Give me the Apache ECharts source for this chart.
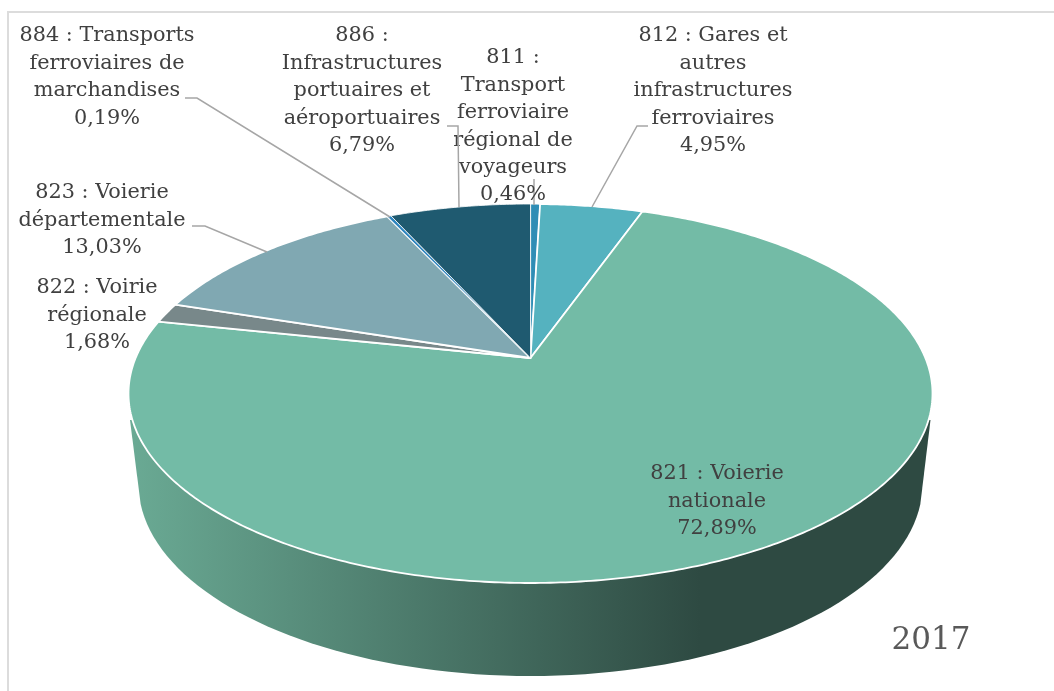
<!DOCTYPE html>
<html><head><meta charset="utf-8">
<style>html,body{margin:0;padding:0;background:#fff}#c{width:1054px;height:691px}</style>
<script src="https://cdn.jsdelivr.net/npm/echarts@6/dist/echarts.min.js"></script>
</head><body><div id="c"></div>
<script>
// ---- data ----
const codes = ['811','812','821','822','823','884','886'];
const labelLines = [
  ['811 :','Transport','ferroviaire','régional de','voyageurs'],
  ['812 : Gares et','autres','infrastructures','ferroviaires'],
  ['821 : Voierie','nationale'],
  ['822 : Voirie','régionale'],
  ['823 : Voierie','départementale'],
  ['884 : Transports','ferroviaires de','marchandises'],
  ['886 :','Infrastructures','portuaires et','aéroportuaires']
];
const shares = [0.46, 4.95, 72.89, 1.68, 13.03, 0.19, 6.79];
const yearLabel = '2017';

// ---- style / layout ----
const sliceColors = ['#2f8db5','#55b2bf','#73bba6','#78888a','#80a8b2','#2f86c0','#1f5a70'];
const sliceStrokes = [1.2, 1.8, 1.8, 1.8, 1.8, 0.8, 0.8];
const labelAnchors = [[513,58],[713,36],[717,474],[97,288],[102,193],[107,36],[362,36]]; // first-line centre
const leaderPaths = [
  [[534,179],[534,205]],
  [[648,126],[637,126],[592,207]],
  null,
  null,
  [[192,226],[205,226],[267,252]],
  [[185,98],[197,98],[390,217]],
  [[447,126],[458,126],[459,207]]
];
const LINE_H = 27.4;
const FONT = '"DejaVu Serif",serif';
const FONT_SIZE = 20.8;
const CX = 530.5, CY = 393.5, RX = 402, RY = 189.5, APEX_OFF = -35.5;
const K = -APEX_OFF / RY, AX = RX * Math.sqrt(1 - K * K);
const WALL = {cx:530.5, cy:484, rx:392, ry:192, tl:[130,420], tr:[930.5,420]};

function rim(turn){ // turn: 0..1 clockwise from the top, perspective disc
  const a = turn * 2 * Math.PI, u = Math.sin(a), v = Math.cos(a), w = 1 + K * v;
  return [CX + AX * u / w, CY + (-RY * v + APEX_OFF) / w];
}
const total = shares.reduce((s, v) => s + v, 0);
const starts = [];
shares.reduce((s, v, i) => { starts[i] = s; return s + v; }, 0);

function renderSlice(params, api){
  const i = api.value(0), val = api.value(1);
  const pts = [[CX, CY + APEX_OFF]];
  const n = Math.max(3, Math.ceil(val * 6));
  for (let k = 0; k <= n; k++) pts.push(rim((starts[i] + val * k / n) / total));
  return {type:'polygon', shape:{points:pts},
    style:{fill:sliceColors[i], stroke:'#fff', lineWidth:sliceStrokes[i], lineJoin:'round'}};
}
function renderWall(){
  const pts = [WALL.tl];
  for (let d = 264; d >= 96; d -= 2){
    const a = d * Math.PI / 180;
    pts.push([WALL.cx + WALL.rx * Math.sin(a), WALL.cy - WALL.ry * Math.cos(a)]);
  }
  pts.push(WALL.tr);
  return {type:'polygon', shape:{points:pts}, style:{
    fill:{type:'linear', x:130, y:0, x2:700, y2:0, global:true,
      colorStops:[{offset:0,color:'#6aaa94'},{offset:1,color:'#2e4a42'}]}, stroke:null}};
}
function renderLabel(params, api){
  const i = api.value(0);
  const children = [];
  const pct = shares[i].toFixed(2).replace('.', ',') + '%';
  const lines = labelLines[i].concat([pct]);
  const [x, y] = labelAnchors[i];
  if (leaderPaths[i]) children.push({type:'polyline', shape:{points:leaderPaths[i]},
    style:{fill:null, stroke:'#a6a6a6', lineWidth:1.5}});
  lines.forEach((t, k) => children.push({type:'text', style:{
    text:t, x:x, y:y + k * LINE_H, align:'center', verticalAlign:'middle',
    fill:'#404040', font:FONT_SIZE + 'px ' + FONT}}));
  return {type:'group', children};
}
const rows = codes.map((c, i) => [i, shares[i], c]);
const chart = echarts.init(document.getElementById('c'), null, {renderer:'canvas'});
chart.setOption({
  animation:false,
  backgroundColor:'#fff',
  graphic:[
    {type:'rect', z:0, shape:{x:8,y:12,width:1200,height:900}, style:{fill:null, stroke:'#dcdcdc', lineWidth:2}},
    {type:'text', z:10, style:{text:yearLabel, x:931, y:641, align:'center', verticalAlign:'middle',
      fill:'#595959', font:'31px ' + FONT}}
  ],
  series:[
    {type:'custom', coordinateSystem:'none', z:2, silent:true, data:[[0]], renderItem:renderWall},
    {type:'custom', coordinateSystem:'none', z:3, silent:true, data:rows, renderItem:renderSlice},
    {type:'custom', coordinateSystem:'none', z:4, silent:true, data:rows, renderItem:renderLabel}
  ]
});
</script></body></html>
